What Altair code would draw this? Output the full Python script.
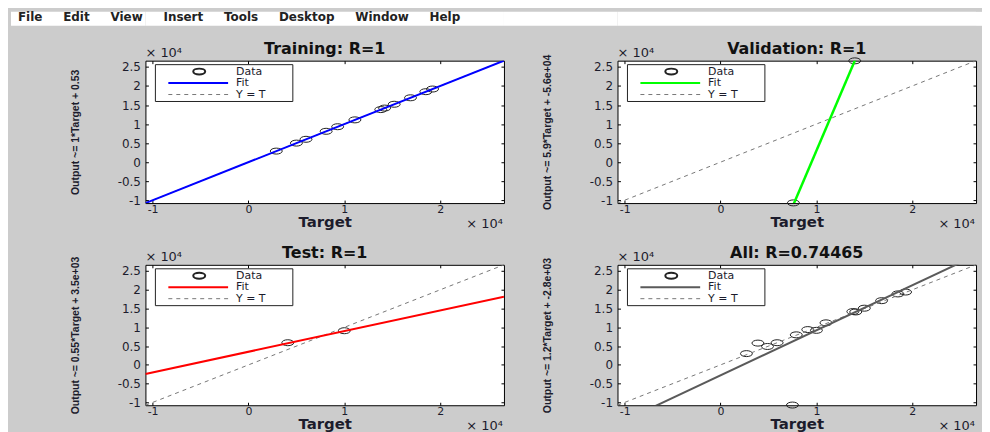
import altair as alt
import pandas as pd

# ---------------- data (all values in units of 1e4) ----------------
AXIS_LIM = [-1.075, 2.665]
X_TICKS = [-1, 0, 1, 2]
Y_TICKS = [-1, -0.5, 0, 0.5, 1, 1.5, 2, 2.5]

MENU_ITEMS = ["File", "Edit", "View", "Insert", "Tools", "Desktop", "Window", "Help"]

PANEL_TITLES = ["Training: R=1", "Validation: R=1", "Test: R=1", "All: R=0.74465"]
Y_LABELS = [
    "Output ~= 1*Target + 0.53",
    "Output ~= 5.9*Target + -5.6e+04",
    "Output ~= 0.55*Target + 3.5e+03",
    "Output ~= 1.2*Target + -2.8e+03",
]
FIT_SLOPES = [1.0, 5.9, 0.55, 1.2]
FIT_INTERCEPTS = [0.000053, -5.6, 0.35, -0.28]
LEGEND_LABELS = ["Data", "Fit", "Y = T"]

train_target = [0.29, 0.50, 0.60, 0.81, 0.93, 1.11, 1.38, 1.42, 1.52, 1.69, 1.85, 1.92]
train_output = [0.29, 0.50, 0.60, 0.81, 0.93, 1.11, 1.38, 1.42, 1.52, 1.69, 1.85, 1.92]

val_target = [0.76, 1.40]
val_output = [-1.07, 2.66]

test_target = [0.41, 1.00]
test_output = [0.59, 0.91]

all_target = [0.27, 0.39, 0.49, 0.59, 0.79, 0.91, 1.00, 1.10, 1.38, 1.41, 1.50, 1.68, 1.85, 1.93, 0.75]
all_output = [0.30, 0.58, 0.49, 0.59, 0.80, 0.94, 0.92, 1.12, 1.42, 1.41, 1.51, 1.71, 1.89, 1.94, -1.07]

# ---------------- styles ----------------
FIT_COLORS = ["#0000ff", "#00ff00", "#ff0000", "#5a5a5a"]
FIT_WIDTHS = [2, 2.5, 2, 2]
FONT = "DejaVu Sans"
YFONT = "Liberation Sans, Arial, sans-serif"
TXT = "#1c1c2c"
ELLIPSE = "M-1,0A1,0.5,0,1,1,1,0A1,0.5,0,1,1,-1,0Z"
PW = 360

one = pd.DataFrame({"k": [0]})


def panel(i, targets, outputs, h):
    lo, hi = AXIS_LIM
    m, b = FIT_SLOPES[i], FIT_INTERCEPTS[i]
    pts = pd.DataFrame({"Target": targets, "Output": outputs})
    ident = pd.DataFrame({"Target": AXIS_LIM, "Output": AXIS_LIM})
    fit = pd.DataFrame({"Target": AXIS_LIM, "Output": [m * lo + b, m * hi + b]})
    sx = alt.Scale(domain=AXIS_LIM, nice=False, zero=False)
    sy = alt.Scale(domain=AXIS_LIM, nice=False, zero=False)

    tick_common = dict(offset=-3, tickSize=3, tickColor="black", tickWidth=1,
                       domain=False, grid=False)
    ax_b = alt.Axis(orient="bottom", values=X_TICKS, labelFont=FONT, labelFontSize=11,
                    labelColor=TXT, labelPadding=0, labelExpr="'' + datum.value",
                    labelFlush=False, labelOverlap=False,
                    title="Target", titleFont=FONT, titleFontSize=15, titleFontWeight="bold",
                    titleColor=TXT, titleBaseline="alphabetic", titleY=26.5, **tick_common)
    ax_l = alt.Axis(orient="left", values=Y_TICKS, labelFont=FONT, labelFontSize=12,
                    labelColor=TXT, labelPadding=5, labelExpr="'' + datum.value",
                    labelFlush=False, labelOverlap=False,
                    title=Y_LABELS[i], titleFont=YFONT, titleFontSize=10.5,
                    titleFontWeight="bold", titleColor=TXT, titleAngle=270,
                    titleBaseline="alphabetic", titleAlign="center",
                    titleX=-70, titleY=h / 2, **tick_common)
    ax_t = alt.Axis(orient="top", values=X_TICKS, labels=False, title=None, **tick_common)
    ax_r = alt.Axis(orient="right", values=Y_TICKS, labels=False, title=None, **tick_common)

    l_pts = alt.Chart(pts).mark_point(shape=ELLIPSE, size=144, filled=False, color="#222222",
                                      strokeWidth=1, opacity=1).encode(
        x=alt.X("Target:Q", scale=sx, axis=None),
        y=alt.Y("Output:Q", scale=sy, axis=None))
    l_id = alt.Chart(ident).mark_line(color="#777777", strokeDash=[4, 4], strokeWidth=1).encode(
        x=alt.X("Target:Q", scale=sx, axis=ax_b),
        y=alt.Y("Output:Q", scale=sy, axis=ax_l))
    l_fit = alt.Chart(fit).mark_line(color=FIT_COLORS[i], strokeWidth=FIT_WIDTHS[i],
                                     clip=True).encode(
        x=alt.X("Target:Q", scale=sx, axis=ax_t),
        y=alt.Y("Output:Q", scale=sy, axis=ax_r))

    lg_box = alt.Chart(one).mark_rect(fill="white", stroke="#222222", strokeWidth=1).encode(
        x=alt.value(10), x2=alt.value(148), y=alt.value(4), y2=alt.value(41))
    lg_pt = alt.Chart(one).mark_point(shape=ELLIPSE, size=144, filled=False, color="#222222",
                                      opacity=1).encode(x=alt.value(54), y=alt.value(11))
    lg_fit = alt.Chart(one).mark_rule(color=FIT_COLORS[i], strokeWidth=2).encode(
        x=alt.value(23), x2=alt.value(83), y=alt.value(22.5))
    lg_id = alt.Chart(one).mark_rule(color="#777777", strokeDash=[4, 4], strokeWidth=1).encode(
        x=alt.value(23), x2=alt.value(83), y=alt.value(34))
    lg_txt = [
        alt.Chart(one).mark_text(text=lab, align="left", baseline="middle", font=FONT,
                                 fontSize=11, color=TXT).encode(x=alt.value(91), y=alt.value(yy))
        for lab, yy in zip(LEGEND_LABELS, [11, 22.5, 34])
    ]
    x10_top = alt.Chart(one).mark_text(text="× 10⁴", align="left", baseline="alphabetic",
                                       font=FONT, fontSize=13, color=TXT).encode(
        x=alt.value(0), y=alt.value(-4))
    x10_bot = alt.Chart(one).mark_text(text="× 10⁴", align="right", baseline="alphabetic",
                                       font=FONT, fontSize=13, color=TXT).encode(
        x=alt.value(PW - 1), y=alt.value(h + 25))
    title = alt.Chart(one).mark_text(text=PANEL_TITLES[i], align="center", baseline="alphabetic",
                                     font=FONT, fontSize=16, fontWeight="bold",
                                     color="#111111").encode(
        x=alt.value(PW / 2), y=alt.value(-7))

    return alt.layer(l_pts, l_id, l_fit, lg_box, lg_pt, lg_fit, lg_id, *lg_txt,
                     x10_top, x10_bot, title).resolve_axis(
        x="independent", y="independent").properties(
        width=PW, height=h,
        view=alt.ViewBackground(fill="white", stroke="black", strokeWidth=1))


def spacer(w, h, fill=None):
    c = alt.Chart(one).mark_point(opacity=0).encode(x=alt.value(0), y=alt.value(0))
    if fill:
        return c.properties(width=w, height=h, view=alt.ViewBackground(fill=fill, strokeWidth=0))
    return c.properties(width=w, height=h)


COL_W = [135, PW, 114, PW, 6]
ROW_H = [14, 35, 143, 62, 141]
panel_data = {
    (2, 1): (0, train_target, train_output),
    (2, 3): (1, val_target, val_output),
    (4, 1): (2, test_target, test_output),
    (4, 3): (3, all_target, all_output),
}
menu_text = ("\u00a0" * 5).join(MENU_ITEMS)

cells = []
for r, h in enumerate(ROW_H):
    for c, w in enumerate(COL_W):
        if (r, c) in panel_data:
            i, t, o = panel_data[(r, c)]
            cells.append(panel(i, t, o, h))
        elif r == 0 and c == len(COL_W) - 1:
            txt = alt.Chart(one).mark_text(text=menu_text, align="left", baseline="alphabetic",
                                           font=FONT, fontSize=12, fontWeight="bold",
                                           color="#222222").encode(
                x=alt.value(15 - 8 - sum(COL_W[:-1])), y=alt.value(9.5))
            cells.append(txt.properties(width=w, height=h,
                                        view=alt.ViewBackground(fill="white", strokeWidth=0)))
        elif r == 0:
            cells.append(spacer(w, h, fill="white"))
        else:
            cells.append(spacer(w, h))

chart = alt.concat(*cells, columns=len(COL_W), spacing=0, bounds="flush", align="each",
                   padding=0).configure(background="#cccccc", font=FONT).configure_view(strokeWidth=0)

chart.save("out.html", embed_options={"renderer": "svg", "actions": False})
